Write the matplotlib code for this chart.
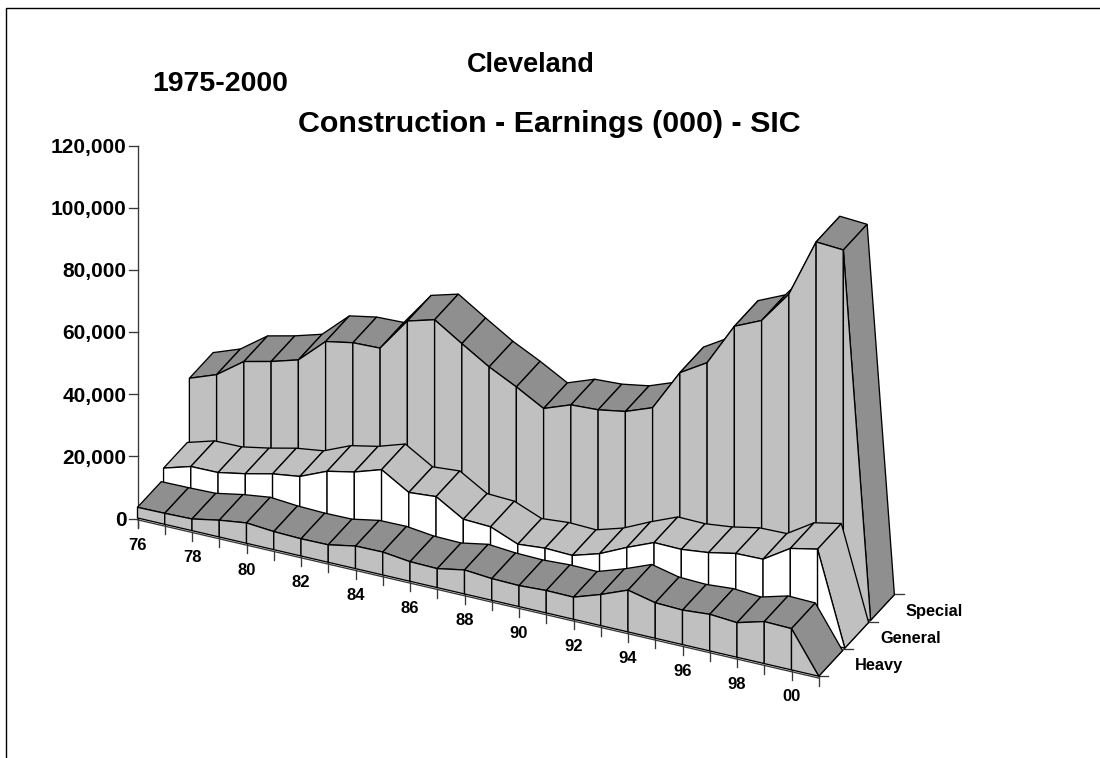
import matplotlib
matplotlib.use('Agg')
import matplotlib.pyplot as plt
from matplotlib.patches import Polygon

plt.rcParams['font.family'] = ['Liberation Sans', 'DejaVu Sans']
plt.rcParams['font.weight'] = 'bold'

# dades (l'ultima categoria esta buida, per aixo cau a zero)
years = ['76', '', '78', '', '80', '', '82', '', '84', '', '86', '', '88', '',
         '90', '', '92', '', '94', '', '96', '', '98', '', '00', '']
heavy = [3440, 3540, 3760, 5400, 6560, 5820, 5530, 5630, 7270, 7370, 6310, 6110, 7720,
         6980, 6760, 7210, 7110, 10010, 13450, 11420, 11100, 11780, 11130, 13510, 13290, 0]
general = [7000, 9550, 9650, 11300, 13300, 14500, 18200, 20000, 22800, 17500, 18200, 12950, 12550,
           9000, 9750, 9450, 12050, 16100, 19700, 19550, 20550, 22300, 22500, 28000, 29800, 0]
special = [26950, 30150, 36400, 38450, 41000, 48950, 50600, 50900, 61650, 64100, 58450, 53000, 48600,
           43700, 46900, 47350, 48850, 52100, 65400, 70650, 84400, 88300, 98800, 117650, 117100, 0]
depths = [0, 1.03, 2.05]
y_ticks = [0, 20000, 40000, 60000, 80000, 100000, 120000]

# perspectiva obliqua: (any, fila, valor) -> pixel
def proj(i, d, v):
    return 137.5 + 27.25 * i + 25.3 * d, 518 + 6.33 * i - 27.3 * d - v * 373 / 120000


fig = plt.figure(figsize=(11, 7.58), dpi=100)
ax = fig.add_axes([0, 0, 1, 1])
ax.set_xlim(0, 1100)
ax.set_ylim(758, 0)
ax.axis('off')

LW = 0.95
AXC = '#383838'
DARK = '#8f8f8f'
LIGHT = '#c0c0c0'

# marc (sense costat dret)
ax.plot([5.5, 5.5, 1100], [758, 7.5, 7.5], color='black', lw=1.0)

# eix y
ax.plot([137.5, 137.5], [145.5, 527], color=AXC, lw=LW)
for t in y_ticks:
    x, y = proj(0, 0, t)
    y += 0.5
    ax.plot([x - 9, x], [y, y], color=AXC, lw=LW)
    ax.text(x - 11, y, f'{t:,}', ha='right', va='center_baseline', fontsize=15)

# eix x
n = len(years)
x0, y0 = proj(0, 0, 0)
x1, y1 = proj(n - 1, 0, 0)
ax.plot([x0, x1], [y0 + 1.8, y1 + 1.8], color=AXC, lw=LW)
for i, lab in enumerate(years):
    x, y = proj(i, 0, 0)
    ax.plot([x, x], [y + 1, y + 10], color=AXC, lw=LW)
    ax.text(x, y + 25.5, lab, ha='center', va='center_baseline', fontsize=12)

# eix de fons
x0, y0 = proj(n - 1, 0, 0)
x1, y1 = proj(n - 1, 3, 0)
ax.plot([x0, x1], [y0, y1], color=AXC, lw=LW)
for d in range(4):
    x, y = proj(n - 1, d, 0)
    ax.plot([x, x + 9], [y, y], color=AXC, lw=LW)
for d, lab in enumerate(['Heavy', 'General', 'Special']):
    x, y = proj(n - 1, d, 0)
    ax.text(x + 36.5, y - 12, lab, ha='left', va='center_baseline', fontsize=11.8)

# cintes, de la del fons a la del davant
ribbons = [(depths[2], special, DARK, LIGHT), (depths[1], general, LIGHT, 'white'), (depths[0], heavy, DARK, LIGHT)]
z = 3
for d, vals, top_col, front_col in ribbons:
    for i in range(n - 1):
        quad = [proj(i, d, vals[i]), proj(i + 1, d, vals[i + 1]),
                proj(i + 1, d + 0.94, vals[i + 1]), proj(i, d + 0.94, vals[i])]
        ax.add_patch(Polygon(quad, closed=True, fc=top_col, ec='black', lw=LW, zorder=z))
    z += 1
    for i in range(n - 1):
        quad = [proj(i, d, vals[i]), proj(i + 1, d, vals[i + 1]),
                proj(i + 1, d, 0), proj(i, d, 0)]
        ax.add_patch(Polygon(quad, closed=True, fc=front_col, ec='black', lw=LW, zorder=z))
    z += 1

# titols
ax.text(531, 65, 'Cleveland', ha='center', va='center', fontsize=19.5)
ax.text(220, 84, '1975-2000', ha='center', va='center', fontsize=20.5)
ax.text(549, 124.5, 'Construction - Earnings (000) - SIC', ha='center', va='center', fontsize=21.9)

fig.savefig('out.png', dpi=100)
